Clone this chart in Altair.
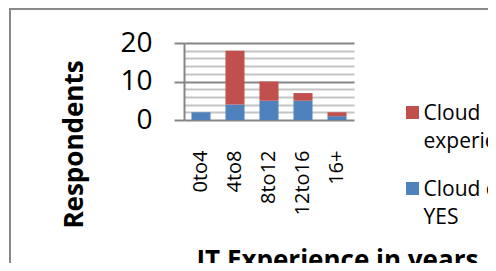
import altair as alt
import pandas as pd

categories = ["0to4", "4to8", "8to12", "12to16", "16+"]
yes_values = [2, 4, 5, 5, 1]
no_values = [0, 14, 5, 2, 1]
series = ["Cloud experience NO", "Cloud experience YES"]
legend_labels = ["Cloud\nexperience NO", "Cloud experience\nYES"]
colors = ["#C0504D", "#4F81BD"]
y_ticks = list(range(0, 21, 2))

rows = []
for c, y, n in zip(categories, yes_values, no_values):
    rows.append({"cat": c, "series": series[1], "value": y, "ord": 0})
    rows.append({"cat": c, "series": series[0], "value": n, "ord": 1})
df = pd.DataFrame(rows)

color_scale = alt.Scale(domain=series, range=colors)
FONT = "Open Sans"

bars = alt.Chart(df).mark_bar().encode(
    x=alt.X("cat:N", sort=categories,
            scale=alt.Scale(paddingInner=0.44, paddingOuter=0.22),
            axis=alt.Axis(title="IT Experience in years", labelAngle=270,
                          labelFontSize=20, labelFont=FONT, labelColor="black",
                          labelPadding=30, ticks=False, domain=False,
                          titleFont=FONT, titleFontSize=26, titleFontWeight="bold",
                          titleColor="black", titleAlign="left",
                          titleBaseline="alphabetic", titleX=12, titleY=148)),
    y=alt.Y("value:Q", stack="zero",
            scale=alt.Scale(domain=[0, 20], nice=False),
            axis=alt.Axis(title="Respondents", values=y_ticks,
                          labelExpr="datum.value % 10 === 0 ? datum.label : ''",
                          labelFontSize=28, labelFont=FONT, labelColor="black",
                          labelPadding=22, tickSize=10, tickWidth=2,
                          tickColor="#868686",
                          tickOpacity={"condition": {"test": "datum.value % 10 === 0", "value": 1}, "value": 0},
                          grid=True, gridWidth=2,
                          gridColor={"condition": {"test": "datum.value % 10 === 0", "value": "#868686"}, "value": "#c4c4c4"},
                          domainColor="#868686", domainWidth=2,
                          titleFont=FONT, titleFontSize=26, titleFontWeight="bold",
                          titleColor="black", titleAngle=270, titleAlign="center",
                          titleBaseline="alphabetic", titleX=-102, titleY=101)),
    color=alt.Color("series:N", scale=color_scale, legend=None),
    order=alt.Order("ord:Q"),
)

frame = alt.Chart(pd.DataFrame({"a": [0]})).mark_rect(
    fillOpacity=0, stroke="#898989", strokeWidth=2
).encode(
    x=alt.value(-174), x2=alt.value(700), y=alt.value(-34), y2=alt.value(400)
)

leg_df = pd.DataFrame({"series": series, "label": legend_labels})
leg_y = alt.Scale(type="point", domain=series, range=[69.5, 145.5], padding=0)

leg_sq = alt.Chart(leg_df).mark_square(size=169, opacity=1).encode(
    x=alt.value(228.5),
    y=alt.Y("series:N", scale=leg_y, axis=None),
    color=alt.Color("series:N", scale=color_scale, legend=None),
)

leg_txt = alt.Chart(leg_df).mark_text(
    align="left", baseline="alphabetic", dy=7.5, lineBreak="\n", lineHeight=28,
    fontSize=21, font=FONT, color="black"
).encode(
    x=alt.value(239.5),
    y=alt.Y("series:N", scale=leg_y, axis=None),
    text="label:N",
)

chart = alt.layer(frame, bars, leg_sq, leg_txt).resolve_scale(
    y="independent"
).properties(
    width=170, height=77,
    autosize=alt.AutoSizeParams(type="none"),
    padding={"left": 176, "top": 35, "right": 134, "bottom": 143},
).configure_view(stroke=None)

chart.save("out.html", embed_options={"renderer": "svg", "actions": False})
